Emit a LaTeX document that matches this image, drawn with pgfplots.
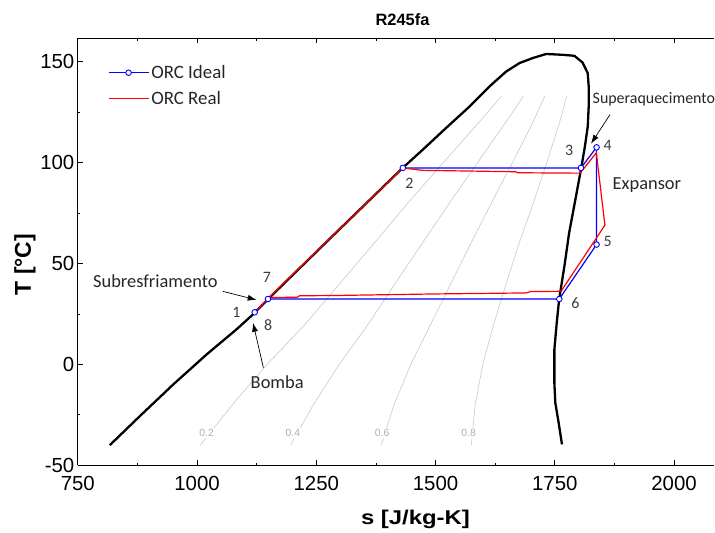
\documentclass[border=0pt]{standalone}
\usepackage{fontspec}
\setmainfont{Liberation Sans}
\newfontfamily\carl{Carlito}
\newfontfamily\labfont[FakeStretch=1.2]{Liberation Sans}
\usepackage{pgfplots}
\pgfplotsset{compat=1.18}
\usetikzlibrary{arrows.meta}
\definecolor{qline}{HTML}{C8C8C8}
\definecolor{qtext}{HTML}{B0B0B0}
\definecolor{numtxt}{HTML}{3C3C3C}
\definecolor{antxt}{HTML}{262626}

\begin{document}
\begin{tikzpicture}[
  qlab/.style={fill=white, inner sep=1bp, text=qtext, font=\fontsize{10.5}{10.5}\selectfont},
  num/.style={font=\carl\fontsize{16}{16}\selectfont, text=numtxt},
  ann/.style={font=\carl\fontsize{18.5}{18.5}\selectfont, text=antxt},
  arr/.style={-{Latex[length=9bp,width=6bp]}, line width=0.7bp},
]
\begin{axis}[
  scale only axis, width=637.1bp, height=427.4bp,
  xmin=750, xmax=2084, ymin=-50, ymax=161.7,
  axis x line*=box, axis y line*=left,
  clip=false,
  tick align=inside,
  xtick={750,1000,...,2000}, ytick={-50,0,...,150},
  minor x tick num=1, minor y tick num=1,
  major tick length=5bp, minor tick length=2.5bp,
  tick style={black, line width=0.8bp},
  axis line style={black, line width=1.2bp},
  /pgf/number format/assume math mode=true,
  /pgf/number format/1000 sep={},
  xticklabel style={font=\fontsize{20.5}{20.5}\selectfont, yshift=-8bp},
  yticklabel style={font=\fontsize{20.5}{20.5}\selectfont},
  legend style={at={(0.047,0.9368)}, anchor=north west, draw=none, fill=none,
    font=\carl\fontsize{19}{19}\selectfont, row sep=11bp,
    column sep=2bp, inner sep=0pt, nodes={inner sep=0pt, text=antxt}},
  legend cell align=left,
]

% quality lines x = 0.2 ... 0.8
\addplot[qline, line width=0.6bp, forget plot] coordinates {
  (1007,-40) (1074,-20) (1147,0) (1227,20) (1299,40) (1371,60)
  (1442,80) (1516,100) (1591,120) (1638,133)};
\addplot[qline, line width=0.6bp, forget plot] coordinates {
  (1196,-40) (1244,-20) (1298,0) (1359,20) (1415,40) (1472,60)
  (1529,80) (1588,100) (1647,120) (1684,133)};
\addplot[qline, line width=0.6bp, forget plot] coordinates {
  (1386,-40) (1413,-20) (1448,0) (1490,20) (1532,40) (1574,60)
  (1617,80) (1661,100) (1704,120) (1729,133)};
\addplot[qline, line width=0.6bp, forget plot] coordinates {
  (1575,-40) (1583,-20) (1599,0) (1622,20) (1648,40) (1675,60)
  (1705,80) (1733,100) (1760,120) (1775,133)};

% saturation dome
\addplot[black, line width=2.3bp, forget plot] coordinates {
  (817,-40.1) (880,-25.7) (950,-10) (1020,4.9) (1082,17.2) (1117,24.7)
  (1149,32.4) (1290,65) (1431,97.4) (1473,106.4) (1522,117.2) (1571,127.8)
  (1613,137.8) (1648,145.2) (1676,149.4) (1704,151.9) (1732,153.9)
  (1766,153.5) (1791,153) (1808,149.7) (1819,144.4) (1821,137.8)
  (1821,127.8) (1819,117.9) (1813,108) (1806,98.2) (1793,81.6) (1780,65.2)
  (1770,48.6) (1759,32.1) (1754,20.6) (1749,7.3) (1749,-9.2) (1751,-19.1)
  (1758,-29) (1765,-39.7)};

% ideal cycle (pump and liquid heating lie under the real cycle)
\addplot[blue, line width=1.2bp, mark=*, mark size=2.8bp,
  mark options={solid, fill=white, draw=blue, line width=0.9bp},
  legend image code/.code={
    \draw[blue, line width=1.2bp] (0bp,0bp) -- (40bp,0bp);
    \draw[blue, fill=white, line width=0.9bp] (20bp,0bp) circle (2.8bp);}]
  coordinates {
  (1431.3,97.4) (1804.8,97.4) (1837.5,107.6) (1837.5,59.4) (1759.4,32.4)
  (1148.7,32.4) (1120.8,25.8)};
\addlegendentry{ORC Ideal}

% real cycle
\addplot[red, line width=1.2bp,
  legend image code/.code={\draw[red, line width=1.4bp] (0bp,0bp) -- (40bp,0bp);}]
  coordinates {
  (1120.8,25.8) (1150,33.0) (1431.3,97.4) (1472,96.2) (1668,95.5)
  (1672,95.0) (1803,94.8) (1837,104.9) (1855,69) (1763,36.2) (1700,36.1)
  (1690,35.4) (1500,34.9) (1280,34.1) (1215,34.0) (1210,33.3) (1152,33.1)};
\addlegendentry{ORC Real}

% quality labels
\node[qlab] at (1020,-34) {0.2};
\node[qlab] at (1201,-34) {0.4};
\node[qlab] at (1388,-34) {0.6};
\node[qlab] at (1569.5,-34) {0.8};

% state numbers
\node[num] at (1082.5,25.8) {1};
\node[num] at (1445,90) {2};
\node[num] at (1780,106) {3};
\node[num] at (1861,108.4) {4};
\node[num] at (1861,61) {5};
\node[num] at (1793,30.5) {6};
\node[num] at (1146.5,42.9) {7};
\node[num] at (1149,19.2) {8};

% annotations
\node[ann] at (912.5,41) {Subresfriamento};
\node[ann] at (1168,-8.8) {Bomba};
\node[ann] at (1943,89.1) {Expansor};
\node[font=\carl\fontsize{16}{16}\selectfont, text=antxt, anchor=west, inner sep=0pt]
  at (1829,131.5) {Superaquecimento};
\draw[arr] (1054,36.2) -- (1125,31.9);
\draw[arr] (1139,-1.7) -- (1117.3,20.6);
\draw[arr] (1865.6,123.8) -- (1825.8,109.4);

\coordinate (bl) at (rel axis cs:0,0);
\coordinate (tr) at (rel axis cs:1,1);
\end{axis}

\node[font=\bfseries\fontsize{16.5}{16.5}\selectfont] at ([shift={(325.1bp,445.7bp)}]bl) {R245fa};
\node[font=\labfont\bfseries\fontsize{20}{20}\selectfont] at ([shift={(338.1bp,-54.3bp)}]bl) {s [J/kg-K]};
\node[font=\bfseries\fontsize{23}{23}\selectfont, rotate=90] at ([shift={(-52.9bp,200.7bp)}]bl) {T [°C]};

\useasboundingbox ([shift={(-77.9bp,-67.3bp)}]bl) rectangle ([shift={(0bp,38.3bp)}]tr);
\end{tikzpicture}
\end{document}
